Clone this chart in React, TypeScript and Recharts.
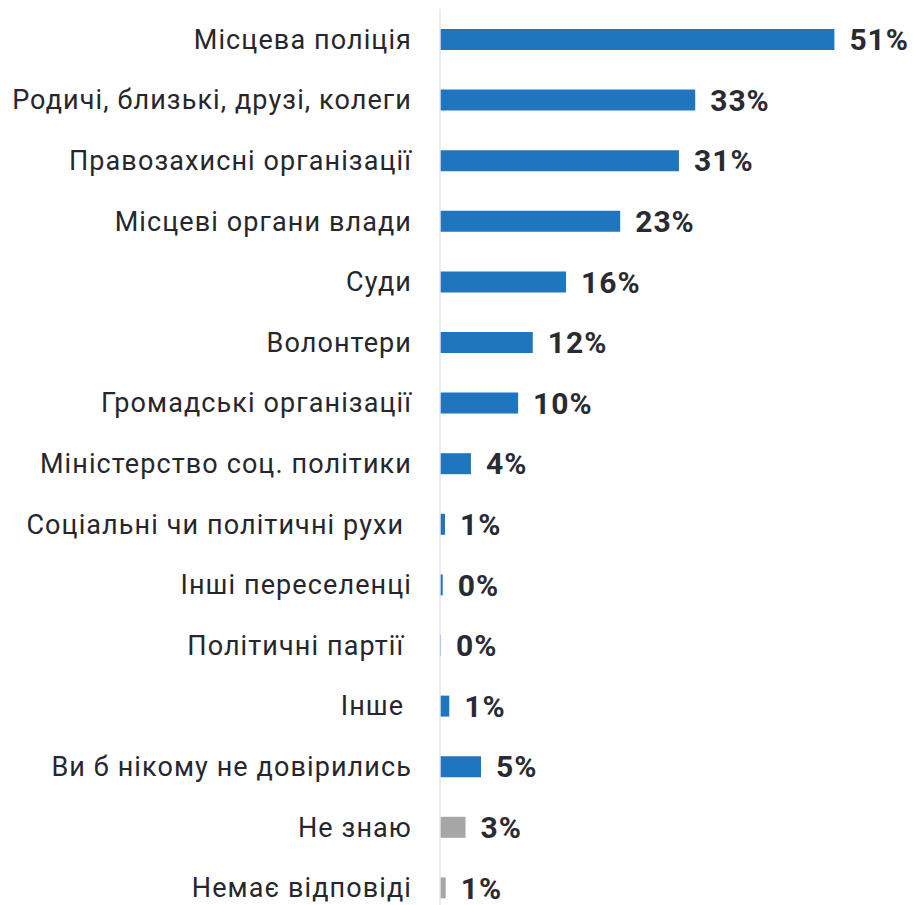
import { BarChart, Bar, XAxis, YAxis, Cell, LabelList } from 'recharts';

// categories as they appear top to bottom (nbsp keeps the trailing gap seen in the source)
const categories = [
  'Місцева поліція',
  'Родичі, близькі, друзі, колеги',
  'Правозахисні організації',
  'Місцеві органи влади',
  'Суди',
  'Волонтери',
  'Громадські організації',
  'Міністерство соц. політики',
  'Соціальні чи політичні рухи\u00a0',
  'Інші переселенці',
  'Політичні партії\u00a0',
  'Інше\u00a0',
  'Ви б нікому не довірились',
  'Не знаю',
  'Немає відповіді',
];

const shares = [51, 33, 30.9, 23.3, 16.3, 12, 10.1, 4, 0.65, 0.35, 0.13, 1.2, 5.3, 3.3, 0.74];

// answers drawn in grey
const noAnswer = ['Не знаю', 'Немає відповіді'];

const data = categories.map((name, i) => ({ name, value: shares[i] }));

export default function App() {
  return (
    <div style={{ position: 'absolute', top: 0, left: 0, width: 914, height: 905, overflow: 'hidden' }}>
      <BarChart
        width={914}
        height={918}
        data={data}
        layout="vertical"
        margin={{ top: 9, right: 10, bottom: 0, left: 0 }}
      >
        <XAxis type="number" domain={[0, 60]} hide />
        <YAxis
          type="category"
          dataKey="name"
          width={440}
          tickLine={false}
          tickSize={0}
          tickMargin={28}
          axisLine={{ stroke: '#e4e4ef', strokeWidth: 1.5 }}
          tick={{ fill: '#26262c', fontSize: 27, fontFamily: 'Roboto', letterSpacing: 1.1 }}
          interval={0}
        />
        <Bar dataKey="value" barSize={21} isAnimationActive={false}>
          {data.map((d) => (
            <Cell key={d.name} fill={noAnswer.includes(d.name) ? '#a6a6a6' : '#1f75be'} />
          ))}
          <LabelList
            dataKey="value"
            position="right"
            offset={15}
            formatter={(v: number) => `${Math.round(v)}%`}
            style={{ fill: '#2a2a32', fontSize: 30, fontWeight: 700, fontFamily: 'Roboto', letterSpacing: 1 }}
          />
        </Bar>
      </BarChart>
    </div>
  );
}
